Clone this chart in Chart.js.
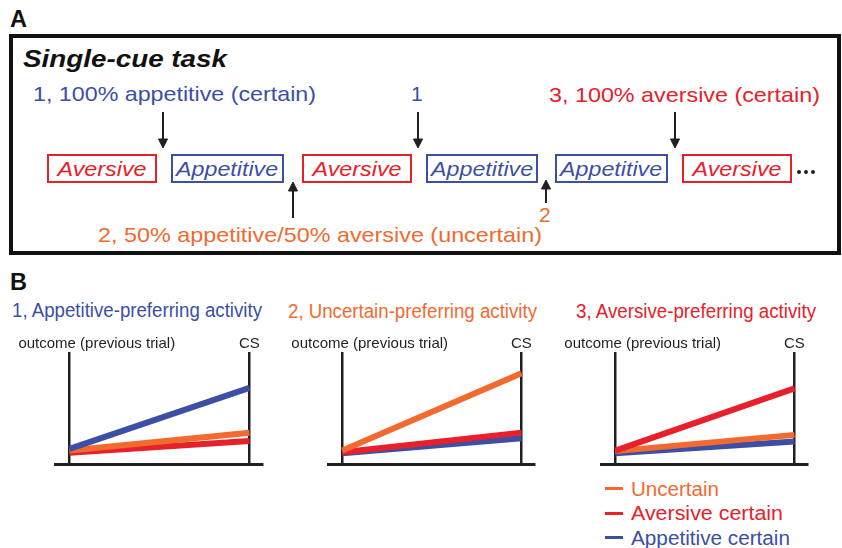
<!DOCTYPE html>
<html>
<head>
<meta charset="utf-8">
<script src="https://cdn.jsdelivr.net/npm/chart.js@4.4.0/dist/chart.umd.min.js"></script>
<style>
  html, body { margin: 0; padding: 0; background: #fff; }
  #fig { position: relative; width: 842px; height: 548px; overflow: hidden; font-family: "Liberation Sans", Arial, sans-serif; }
  .t { position: absolute; white-space: nowrap; transform-origin: 0 0; }
  .box { position: absolute; border: 2px solid; box-sizing: border-box; display: flex; align-items: center; justify-content: center; }
  .box span { display: inline-block; white-space: nowrap; font-style: italic; font-size: 21px; line-height: 21px; transform-origin: 50% 50%; }
  .chart { position: absolute; }
</style>
</head>
<body>
<div id="fig">
  <div style="position:absolute;left:9px;top:34px;width:832px;height:221px;border:4px solid #111;box-sizing:border-box;"></div>
  <svg width="842" height="260" style="position:absolute;left:0;top:0" stroke="#231f20" stroke-width="2" fill="none">
    <!-- down arrows -->
    <line x1="163" y1="112" x2="163" y2="146"/><path d="M158.5,139 L163,148 L167.5,139 Z" fill="#231f20" stroke-width="1"/>
    <line x1="418" y1="112" x2="418" y2="146"/><path d="M413.5,139 L418,148 L422.5,139 Z" fill="#231f20" stroke-width="1"/>
    <line x1="675" y1="112" x2="675" y2="146"/><path d="M670.5,139 L675,148 L679.5,139 Z" fill="#231f20" stroke-width="1"/>
    <!-- up arrows -->
    <line x1="293" y1="184" x2="293" y2="218"/><path d="M288.5,191 L293,182 L297.5,191 Z" fill="#231f20" stroke-width="1"/>
    <line x1="546" y1="182" x2="546" y2="203"/><path d="M541.5,189 L546,180 L550.5,189 Z" fill="#231f20" stroke-width="1"/>
    <g fill="#231f20" stroke="none">
      <circle cx="799" cy="172" r="2"/><circle cx="806" cy="172" r="2"/><circle cx="813" cy="172" r="2"/>
    </g>
  </svg>
  <div class="chart" style="left:0;top:322px;width:280px;height:150px"><canvas id="c1"></canvas></div>
  <div class="chart" style="left:280px;top:322px;width:280px;height:150px"><canvas id="c2"></canvas></div>
  <div class="chart" style="left:560px;top:322px;width:282px;height:150px"><canvas id="c3"></canvas></div>
</div>
<script>
// time points of panel B
const timepoints = ['outcome (previous trial)', 'CS'];
const seriesNames = ['Uncertain', 'Aversive certain', 'Appetitive certain'];
const seriesColors = ['#f26a30', '#e8202a', '#3c4fa5'];
const panelTitles = ['1, Appetitive-preferring activity', '2, Uncertain-preferring activity', '3, Aversive-preferring activity'];

// activity at [outcome, CS] (arbitrary units)
const appPrefUncertain = [1.2, 2.8];
const appPrefAversive = [1.0, 2.05];
const appPrefAppetitive = [1.35, 6.8];
const uncPrefUncertain = [1.2, 8.1];
const uncPrefAversive = [1.05, 2.8];
const uncPrefAppetitive = [0.95, 2.3];
const avePrefUncertain = [1.15, 2.6];
const avePrefAversive = [1.2, 6.75];
const avePrefAppetitive = [0.95, 2.0];

// panel A
const trialSequence = ['Aversive', 'Appetitive', 'Aversive', 'Appetitive', 'Appetitive', 'Aversive'];

const BLUE = seriesColors[2], RED = seriesColors[1], ORANGE = seriesColors[0];
const fig = document.getElementById('fig');

function addText(str, left, cy, fs, width, color, font) {
    const el = document.createElement('div');
    el.className = 't';
    el.textContent = str;
    el.style.font = (font || '') + ' ' + fs + 'px "Liberation Sans", Arial, sans-serif';
    el.style.lineHeight = fs + 'px';
    el.style.color = color;
    el.style.left = left + 'px';
    el.style.top = (cy - 0.49 * fs) + 'px';
    fig.appendChild(el);
    if (width) {
        const w = el.getBoundingClientRect().width;
        el.style.transform = 'scaleX(' + (width / w) + ')';
    }
    return el;
}

// Panel A texts
addText('A', 10, 18.5, 24, 17, '#111', 'bold');
addText('Single-cue task', 23, 58.5, 24, 204, '#111', 'italic bold');
addText('1, 100% appetitive (certain)', 33, 93.5, 21, 283, BLUE);
addText('1', 411, 93.5, 21, null, BLUE);
addText('3, 100% aversive (certain)', 549, 94.5, 21, 271, RED);
addText('2, 50% appetitive/50% aversive (uncertain)', 98, 234, 21, 444, ORANGE);
addText('2', 539, 214.5, 21, null, ORANGE);

// trial boxes
const boxEdges = [[47, 157], [171, 284], [302, 412], [426, 538], [555, 668], [682, 792]];
trialSequence.forEach((name, i) => {
    const b = document.createElement('div');
    const col = name === 'Aversive' ? RED : BLUE;
    b.className = 'box';
    b.style.left = boxEdges[i][0] + 'px';
    b.style.width = (boxEdges[i][1] - boxEdges[i][0]) + 'px';
    b.style.top = '154px';
    b.style.height = '29px';
    b.style.borderColor = col;
    const s = document.createElement('span');
    s.textContent = name;
    s.style.color = col;
    b.appendChild(s);
    fig.appendChild(b);
    const w = s.getBoundingClientRect().width;
    s.style.transform = 'scaleX(' + ((name === 'Aversive' ? 89 : 102) / w) + ')';
});

// Panel B texts
addText('B', 10, 281.5, 24, 17, '#111', 'bold');
addText(panelTitles[0], 12, 310, 20, 250, BLUE);
addText(panelTitles[1], 288, 311, 20, 249, ORANGE);
addText(panelTitles[2], 576, 311, 20, 240, RED);

// legend
const legendY = [488.5, 513, 537.5];
seriesNames.forEach((name, i) => {
    const d = document.createElement('div');
    d.style.cssText = 'position:absolute;left:605px;width:18px;height:3px;background:' + seriesColors[i] + ';top:' + (legendY[i] - 1.5) + 'px';
    fig.appendChild(d);
    addText(name, 631, legendY[i], 20, [88, 152, 159][i], seriesColors[i]);
});

// top labels on each chart
const timeLabels = {
    id: 'timeLabels',
    afterDraw(chart) {
        const { ctx, chartArea, scales: { x } } = chart;
        ctx.save();
        ctx.font = '15px "Liberation Sans", Arial, sans-serif';
        ctx.fillStyle = '#231f20';
        ctx.textBaseline = 'alphabetic';
        ctx.textAlign = 'left';
        ctx.fillText(timepoints[0], x.getPixelForValue(0) - 51, chartArea.top - 4);
        ctx.textAlign = 'center';
        ctx.fillText(timepoints[1], x.getPixelForValue(1), chartArea.top - 4);
        ctx.restore();
    }
};

function makeChart(id, series, order, pad) {
    const datasets = seriesNames.map((name, i) => ({
        label: name,
        data: series[i].map((v, k) => ({ x: k, y: v })),
        borderColor: seriesColors[i],
        borderWidth: 6,
        pointRadius: 0,
        order: order[i]
    }));
    new Chart(document.getElementById(id).getContext('2d'), {
        type: 'line',
        data: { datasets: datasets },
        options: {
            responsive: true,
            maintainAspectRatio: false,
            animation: false,
            layout: { padding: pad },
            plugins: { legend: { display: false }, tooltip: { enabled: false } },
            scales: {
                x: {
                    type: 'linear',
                    min: -0.08,
                    max: 1.07,
                    afterBuildTicks: ax => { ax.ticks = timepoints.map((t, i) => ({ value: i })); },
                    ticks: { display: false },
                    grid: { color: '#231f20', lineWidth: 2.5, drawTicks: false },
                    border: { display: true, color: '#231f20', width: 3 }
                },
                y: { display: false, min: 0, max: 10 }
            }
        },
        plugins: [timeLabels]
    });
}

makeChart('c1', [appPrefUncertain, appPrefAversive, appPrefAppetitive], [1, 2, 0], { left: 55, right: 18, top: 30, bottom: 8 });
makeChart('c2', [uncPrefUncertain, uncPrefAversive, uncPrefAppetitive], [0, 1, 2], { left: 48, right: 26, top: 30, bottom: 8 });
makeChart('c3', [avePrefUncertain, avePrefAversive, avePrefAppetitive], [1, 0, 2], { left: 41, right: 35, top: 30, bottom: 8 });
</script>
</body>
</html>
